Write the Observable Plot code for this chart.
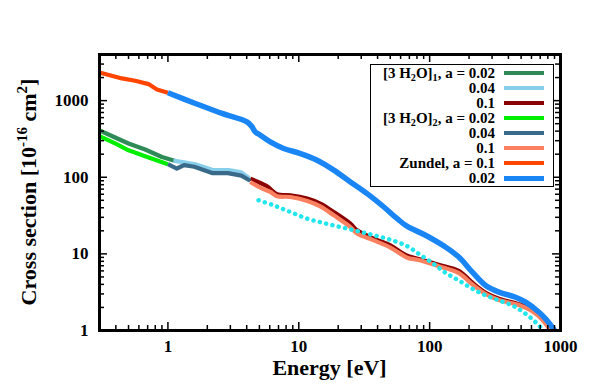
<!DOCTYPE html>
<html><head><meta charset="utf-8">
<script src="https://cdn.jsdelivr.net/npm/d3@7"></script>
<script src="https://cdn.jsdelivr.net/npm/@observablehq/plot@0.6"></script>
<style>
body{margin:0;background:#fff;}
#wrap{position:relative;width:592px;height:387px;font-family:"Liberation Serif","Times New Roman",serif;font-weight:bold;}
#legend{position:absolute;left:370px;top:64px;width:184px;height:123px;box-sizing:border-box;border:1.5px solid #000;background:#fff;}
.row{position:absolute;left:0;height:15px;width:100%;}
.lab{position:absolute;right:58px;top:0;line-height:15px;font-size:15px;white-space:nowrap;color:#000;}
.sw{position:absolute;left:133px;width:40px;}
sub{font-size:0.68em;vertical-align:-0.3em;line-height:0;}
</style></head><body><div id="wrap"></div>
<script>
// ---- data ----
const xTicks = [1, 10, 100, 1000];
const yTicks = [1, 10, 100, 1000];
const legendLabels = ["[3 H<sub>2</sub>O]<sub>1</sub>, a = 0.02", "0.04", "0.1",
  "[3 H<sub>2</sub>O]<sub>2</sub>, a = 0.02", "0.04", "0.1", "Zundel, a = 0.1", "0.02"];
const colors = ["#2e8b57", "#87ceeb", "#8b0000", "#00ee00", "#3a6a8a", "#fa8060", "#ff4500", "#1a86f5"];

const w1a002E = [0.3, 0.395, 0.5, 0.67, 0.9, 1.14];
const w1a002S = [410, 330, 276, 230, 184, 163];
const w1a004E = [1.1, 1.36, 1.62, 2.2, 2.91, 3.64, 4.19];
const w1a004S = [165, 155, 148, 124, 124, 116, 97];
const w1a01E = [4.26, 5.08, 5.72, 6.82, 8.62, 11.6, 14.6, 18.5, 24.8, 27.9, 37.4, 50.2, 66, 82.6, 117, 167, 212, 268, 338, 481, 609, 727, 817, 850];
const w1a01S = [96, 84.2, 76.2, 59.9, 58.2, 52.7, 45.3, 35.2, 24.8, 20.3, 15.8, 12.9, 9.6, 8.6, 7.2, 6.0, 4.2, 3.1, 2.6, 2.2, 1.86, 1.45, 1.12, 1.0];
const w2a002E = [0.3, 0.395, 0.5, 0.67, 1.0];
const w2a002S = [345, 276, 225, 188, 148];
const w2a004E = [1.0, 1.17, 1.33, 1.59, 2.2, 2.87, 3.64, 4.26];
const w2a004S = [148, 130, 144, 137, 113, 113, 105, 90];
const w2a01E = [4.26, 5.08, 6.06, 6.82, 8.62, 11.6, 14.6, 18.5, 24.8, 27.9, 37.4, 50.2, 67.4, 82.6, 117, 167, 212, 268, 338, 481, 609, 727, 817, 850];
const w2a01S = [86.8, 73.3, 64.3, 56.5, 55.3, 49.0, 41.8, 31.9, 22.4, 18.4, 15.0, 12.1, 8.92, 8.3, 6.9, 5.6, 4.0, 3.0, 2.5, 2.15, 1.78, 1.38, 1.07, 1.0];
const zun01E = [0.3, 0.445, 0.562, 0.711, 0.824, 1.0];
const zun01S = [2330, 1950, 1815, 1644, 1400, 1265];
const zun002E = [1.0, 1.62, 2.59, 4.02, 4.39, 4.65, 5.08, 6.06, 7.66, 10.3, 13.8, 18.5, 24.8, 33.3, 44.7, 56.5, 67, 93, 132, 167, 212, 268, 338, 454, 542, 685, 770, 867, 900];
const zun002S = [1265, 919, 680, 528, 455, 391, 354, 289, 237, 204, 167, 124, 86.9, 61.2, 40.9, 28.8, 23, 17.5, 12.3, 9.08, 5.78, 3.87, 3.17, 2.72, 2.34, 1.73, 1.42, 1.10, 1.0];
const exptE = [4.93, 6.43, 8.62, 11.6, 15.5, 20.8, 27.9, 37.4, 50.2, 67.4, 82.6, 105, 132, 167, 212, 268, 338, 429, 542, 646, 706];
const exptS = [50.1, 43.0, 35.2, 28.8, 25.3, 22.4, 19.9, 17.5, 15.3, 12.6, 10.0, 7.6, 5.68, 4.50, 3.51, 2.87, 2.47, 2.12, 1.65, 1.28, 1.10];

// ---- layout ----
const W = 592, H = 387, mL = 99, mR = 32, mT = 54, mB = 57;
const xDom = [0.3, 1000], yDom = [1, 4000];
const pxX = (W - mL - mR) / Math.log10(xDom[1] / xDom[0]);
const pxY = (H - mT - mB) / Math.log10(yDom[1] / yDom[0]);
const fX = p => Math.pow(10, p / pxX), fY = p => Math.pow(10, p / pxY);

const seriesE = [w1a002E, w1a004E, w1a01E, w2a002E, w2a004E, w2a01E, zun01E, zun002E];
const seriesS = [w1a002S, w1a004S, w1a01S, w2a002S, w2a004S, w2a01S, zun01S, zun002S];
const smooth = [false, false, true, false, false, true, false, true];
const toRows = (E, S) => E.map((e, i) => ({E: e, S: S[i]}));

const xMinor = [], yMinor = [];
for (const d of [0.1, 1, 10, 100]) for (let k = 2; k <= 9; k++) { const v = +(d * k).toPrecision(3); if (v > xDom[0] && v < xDom[1]) xMinor.push(v); }
for (const d of [1, 10, 100, 1000]) for (let k = 2; k <= 9; k++) { const v = d * k; if (v < yDom[1]) yMinor.push(v); }

const tickMarks = [];
for (const [vals, len] of [[xTicks, 8], [xMinor, 5]]) {
  tickMarks.push(Plot.ruleX(vals, {x: d => d, y1: yDom[0], y2: yDom[0] * fY(len), stroke: "#000", strokeWidth: 1.5}));
  tickMarks.push(Plot.ruleX(vals, {x: d => d, y1: yDom[1], y2: yDom[1] / fY(len), stroke: "#000", strokeWidth: 1.5}));
}
for (const [vals, len] of [[yTicks, 8], [yMinor, 5]]) {
  tickMarks.push(Plot.ruleY(vals, {y: d => d, x1: xDom[0], x2: xDom[0] * fX(len), stroke: "#000", strokeWidth: 1.5}));
  tickMarks.push(Plot.ruleY(vals, {y: d => d, x1: xDom[1], x2: xDom[1] / fX(len), stroke: "#000", strokeWidth: 1.5}));
}

const lineMarks = seriesE.map((E, i) => Plot.line(toRows(E, seriesS[i]), {
  x: "E", y: "S", stroke: colors[i], strokeWidth: i === 7 ? 5.5 : 4.2,
  curve: smooth[i] ? "catmull-rom" : "linear",
  strokeLinejoin: "round", strokeLinecap: "butt", clip: true
}));

const chart = Plot.plot({
  width: W, height: H, marginLeft: mL, marginRight: mR, marginTop: mT, marginBottom: mB,
  style: {fontFamily: "'Liberation Serif', 'Times New Roman', serif", fontSize: "17px", fontWeight: "bold", background: "white", color: "#000"},
  x: {type: "log", domain: xDom},
  y: {type: "log", domain: yDom},
  marks: [
    ...lineMarks,
    Plot.line(toRows(exptE, exptS), {x: "E", y: "S", stroke: "#22e6ee", strokeWidth: 4.5, strokeDasharray: "0.1 6.4", strokeLinecap: "round", curve: "catmull-rom", clip: true}),
    ...tickMarks,
    Plot.axisX({ticks: xTicks, tickSize: 0, tickPadding: 9, tickFormat: d => String(d), label: null, fontSize: 17, fontWeight: "bold"}),
    Plot.axisY({ticks: yTicks, tickSize: 0, tickPadding: 11, tickFormat: d => String(d), label: null, fontSize: 17, fontWeight: "bold"}),
    Plot.frame({stroke: "#000", strokeWidth: 3})
  ]
});

const svg = d3.select(chart);
svg.append("text").attr("x", (mL + W - mR) / 2).attr("y", 375).attr("text-anchor", "middle")
  .style("font", "bold 22px 'Liberation Serif', serif").attr("fill", "#000").text("Energy [eV]");
const yt = svg.append("text").attr("transform", `translate(36,${(mT + H - mB) / 2}) rotate(-90)`)
  .attr("text-anchor", "middle").style("font", "bold 22px 'Liberation Serif', serif").attr("fill", "#000");
yt.append("tspan").text("Cross section [10");
yt.append("tspan").attr("dy", -9).style("font-size", "15px").text("-16");
yt.append("tspan").attr("dy", 9).text(" cm");
yt.append("tspan").attr("dy", -9).style("font-size", "15px").text("2");
yt.append("tspan").attr("dy", 9).text("]");

const wrap = document.getElementById("wrap");
wrap.appendChild(chart);
const leg = document.createElement("div");
leg.id = "legend";
legendLabels.forEach((lab, i) => {
  const row = document.createElement("div");
  row.className = "row";
  row.style.top = (8 + 15 * i - 7.5) + "px";
  const t = document.createElement("span");
  t.className = "lab"; t.innerHTML = lab;
  const s = document.createElement("div");
  const th = i === 7 ? 5 : 4;
  s.className = "sw"; s.style.top = (7.5 - th / 2) + "px"; s.style.height = th + "px"; s.style.background = colors[i];
  row.appendChild(t); row.appendChild(s); leg.appendChild(row);
});
wrap.appendChild(leg);
</script></body></html>
